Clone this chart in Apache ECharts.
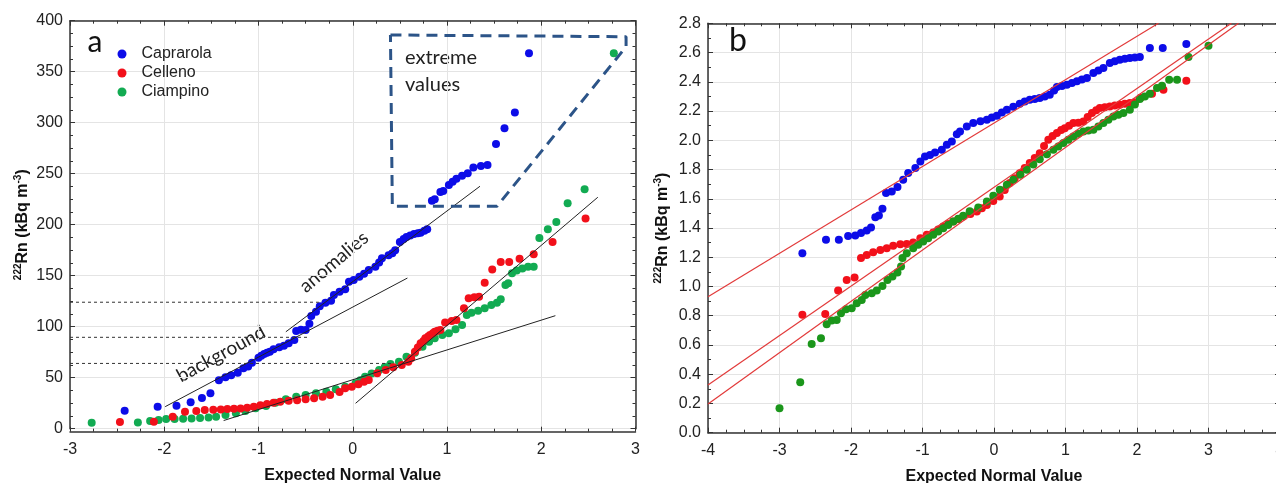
<!DOCTYPE html>
<html>
<head>
<meta charset="utf-8">
<script src="https://cdn.jsdelivr.net/npm/echarts@6/dist/echarts.min.js"></script>
<style>
  html, body { margin: 0; padding: 0; background: #fff; }
  #chart { width: 1276px; height: 483px; }
</style>
</head>
<body>
<div id="chart"></div>
<script>
// panel a - raw values: [expected normal value, Rn kBq m-3]
var caprarolaA = [[-2.42,17.6],[-2.07,21.6],[-1.87,22.5],[-1.72,25.9],[-1.60,30],[-1.51,34.7],[-1.42,47.4],[-1.35,50.4],
  [-1.29,52.3],[-1.22,54.9],[-1.16,59.2],[-1.11,61],[-1.07,64.7],[-1.00,69.6],[-0.97,71.5],[-0.94,73.2],[-0.91,74.5],
  [-0.88,75.5],[-0.84,77.8],[-0.78,79.8],[-0.73,81.4],[-0.68,83.7],[-0.62,87],[-0.60,95.8],[-0.55,97],[-0.50,96.8],
  [-0.46,103],[-0.44,110.5],[-0.39,114.7],[-0.35,120],[-0.29,123.5],[-0.23,125.5],[-0.20,131],[-0.14,134.3],[-0.08,136.7],
  [-0.04,144],[0.01,145.8],[0.07,149],[0.12,152],[0.17,155.6],[0.24,158.8],[0.28,163],[0.31,167],[0.38,170],[0.42,172],
  [0.45,175],[0.50,183],[0.54,186],[0.57,188],[0.61,189.5],[0.65,191],[0.69,191.5],[0.72,192],[0.76,194],[0.79,195.5],
  [0.84,223.5],[0.87,225],[0.93,232],[0.96,233],[1.02,239],[1.06,242],[1.10,245],[1.16,248],[1.22,250.4],[1.28,256],
  [1.36,257.5],[1.43,258.5],[1.52,279],[1.61,294.5],[1.72,310],[1.87,368]];
var cellenoA = [[-2.47,6.6],[-2.11,6.9],[-1.91,11.8],[-1.78,16.7],[-1.66,17.4],[-1.57,18.3],[-1.48,18.6],[-1.40,18.9],
  [-1.33,19.2],[-1.26,19.6],[-1.19,19.9],[-1.12,20.5],[-1.05,21.6],[-0.98,22.9],[-0.91,24.2],[-0.84,25.5],[-0.77,26.5],
  [-0.68,27.5],[-0.59,28],[-0.50,28.8],[-0.41,29.8],[-0.32,31.4],[-0.24,33],[-0.14,36],[-0.08,39.6],[-0.01,41.2],
  [0.06,43.5],[0.12,46],[0.17,47.7],[0.26,54.3],[0.35,57.5],[0.43,60.2],[0.52,62.5],[0.59,65.7],[0.62,69],[0.66,75.5],
  [0.69,79.5],[0.72,83.7],[0.75,86],[0.77,88.6],[0.80,90.3],[0.82,91.9],[0.85,93.5],[0.87,95],[0.90,96],[0.93,96.8],
  [0.98,104],[1.05,105.6],[1.10,106.6],[1.18,118],[1.23,127.8],[1.29,128.8],[1.34,129.4],[1.40,143],[1.48,156],
  [1.57,163.4],[1.66,163.4],[1.77,166.7],[1.92,171],[2.12,183],[2.47,206]];
var ciampinoA = [[-2.77,5.9],[-2.28,6.2],[-2.15,7.5],[-2.06,8.5],[-1.98,9.5],[-1.89,9.5],[-1.80,9.8],[-1.71,10.1],
  [-1.62,10.5],[-1.53,11.1],[-1.45,11.8],[-1.35,13.4],[-1.24,15.1],[-1.14,17.4],[-1.03,20],[-0.92,22.3],[-0.82,25.5],
  [-0.71,28.8],[-0.60,31.4],[-0.50,33],[-0.39,34.7],[-0.28,36.3],[-0.18,38.6],[-0.08,41.2],[0.03,44.5],[0.08,47.5],
  [0.13,51],[0.20,54],[0.28,57.5],[0.34,60.5],[0.40,63.4],[0.49,65.7],[0.57,70.6],[0.66,74.5],[0.74,80.4],[0.81,85.3],
  [0.87,88.6],[0.95,91.9],[1.02,93.5],[1.09,97.5],[1.16,101.7],[1.21,111.5],[1.26,113.7],[1.33,115.7],[1.40,118],
  [1.47,121.3],[1.53,123.5],[1.57,126.9],[1.62,140.9],[1.65,142.5],[1.69,152.4],[1.74,155],[1.80,157],[1.86,158.8],
  [1.92,158.8],[1.98,187],[2.07,195.5],[2.16,202.6],[2.28,221],[2.46,234.7],[2.77,368]];

// panel a - fitted segments and thresholds
var backgroundFit = [[-1.99,21.6],[0.58,147.7]];
var anomalyFit = [[-0.71,95],[1.35,237.7]];
var lowerFit = [[-1.37,8],[2.15,110.8]];
var upperFit = [[0.03,24.9],[2.60,226.9]];
var threshold1 = [[-3,124],[-0.36,124]];
var threshold2 = [[-3,89.6],[-0.47,89.6]];
var threshold3 = [[-3,64],[0.41,64]];
var extremeBox = [[0.40,386],[2.90,384.3],[2.90,374.5],[1.53,218],[0.42,218],[0.40,386]];

// panel b - log values
var caprarolaB = [[-2.68,1.228],[-2.35,1.319],[-2.17,1.319],[-2.04,1.346],[-1.94,1.348],[-1.86,1.365],[-1.78,1.383],
  [-1.72,1.403],[-1.66,1.474],[-1.61,1.485],[-1.56,1.531],[-1.51,1.639],[-1.43,1.650],[-1.35,1.68],[-1.27,1.73],
  [-1.20,1.776],[-1.10,1.81],[-1.03,1.855],[-0.965,1.889],[-0.895,1.90],[-0.825,1.917],[-0.73,1.935],[-0.66,1.97],
  [-0.59,1.992],[-0.52,2.042],[-0.475,2.06],[-0.38,2.095],[-0.29,2.118],[-0.19,2.13],[-0.10,2.140],[-0.03,2.155],
  [0.04,2.168],[0.11,2.19],[0.18,2.209],[0.27,2.23],[0.36,2.25],[0.43,2.265],[0.50,2.277],[0.57,2.283],[0.64,2.289],
  [0.71,2.30],[0.78,2.311],[0.84,2.34],[0.88,2.364],[0.95,2.372],[1.02,2.38],[1.09,2.392],[1.16,2.403],[1.23,2.415],
  [1.30,2.426],[1.39,2.46],[1.46,2.477],[1.53,2.494],[1.62,2.528],[1.69,2.54],[1.76,2.551],[1.83,2.557],[1.90,2.563],
  [1.97,2.566],[2.04,2.569],[2.18,2.631],[2.36,2.631],[2.69,2.658]];
var cellenoB = [[-2.68,0.806],[-2.36,0.812],[-2.18,0.972],[-2.06,1.045],[-1.95,1.061],[-1.86,1.194],[-1.78,1.216],
  [-1.69,1.235],[-1.59,1.25],[-1.50,1.262],[-1.41,1.278],[-1.31,1.289],[-1.22,1.291],[-1.13,1.30],[-1.03,1.33],
  [-0.94,1.353],[-0.85,1.369],[-0.78,1.39],[-0.71,1.41],[-0.64,1.427],[-0.57,1.444],[-0.50,1.46],[-0.43,1.478],
  [-0.33,1.495],[-0.24,1.513],[-0.17,1.535],[-0.10,1.558],[-0.01,1.585],[0.08,1.615],[0.15,1.66],[0.22,1.707],
  [0.29,1.74],[0.36,1.775],[0.43,1.81],[0.50,1.844],[0.57,1.878],[0.64,1.912],[0.70,1.96],[0.76,2.003],[0.82,2.03],
  [0.88,2.049],[0.94,2.07],[0.99,2.083],[1.05,2.10],[1.11,2.118],[1.18,2.12],[1.25,2.129],[1.31,2.16],[1.37,2.186],
  [1.43,2.205],[1.48,2.22],[1.55,2.226],[1.62,2.231],[1.69,2.237],[1.76,2.243],[1.83,2.249],[1.90,2.255],[1.97,2.26],
  [2.05,2.29],[2.21,2.318],[2.37,2.346],[2.69,2.407]];
var ciampinoB = [[-3.0,0.167],[-2.71,0.345],[-2.55,0.607],[-2.42,0.646],[-2.34,0.742],[-2.27,0.767],[-2.20,0.771],
  [-2.14,0.817],[-2.07,0.845],[-1.99,0.851],[-1.92,0.886],[-1.85,0.908],[-1.80,0.942],[-1.71,0.954],[-1.64,0.972],
  [-1.56,1.004],[-1.49,1.045],[-1.42,1.068],[-1.35,1.095],[-1.30,1.136],[-1.28,1.194],[-1.22,1.228],[-1.13,1.262],
  [-1.06,1.285],[-0.99,1.307],[-0.92,1.33],[-0.85,1.353],[-0.78,1.376],[-0.71,1.399],[-0.64,1.42],[-0.57,1.444],
  [-0.50,1.463],[-0.43,1.483],[-0.34,1.515],[-0.22,1.54],[-0.10,1.581],[-0.01,1.62],[0.08,1.661],[0.18,1.695],
  [0.27,1.73],[0.37,1.765],[0.46,1.798],[0.55,1.835],[0.64,1.871],[0.74,1.905],[0.83,1.935],[0.90,1.958],[0.97,1.981],
  [1.04,2.004],[1.11,2.026],[1.18,2.045],[1.25,2.06],[1.32,2.066],[1.39,2.072],[1.46,2.095],[1.53,2.118],[1.60,2.14],
  [1.67,2.163],[1.74,2.175],[1.81,2.186],[1.90,2.209],[1.97,2.245],[2.04,2.282],[2.11,2.30],[2.18,2.318],[2.28,2.357],
  [2.35,2.373],[2.45,2.414],[2.56,2.414],[2.72,2.569],[3.00,2.647]];

// panel b - fitted lines
var caprarolaFit = [[-4,0.93],[2.30,2.8]];
var cellenoFit = [[-4,0.326],[3.32,2.8]];
var ciampinoFit = [[-4,0.196],[3.42,2.8]];

var xTicksA = [-3, 3];
var yTicksA = [0, 400];
var xTicksB = [-4, 4];
var yTicksB = [0, 2.8];

var tickFont = 'Liberation Sans, Arial, sans-serif';
var noteFont = 'Lato, "Open Sans", sans-serif';
var axisColor = '#333';

function frameAxis(extra) {
  var base = {
    type: 'value',
    axisLine: { show: true, onZero: false, lineStyle: { color: axisColor, width: 1.5 } },
    axisTick: { show: true, inside: true, length: 5, lineStyle: { color: axisColor } },
    minorTick: { show: true, inside: true, splitNumber: 4, length: 3, lineStyle: { color: axisColor } },
    axisLabel: { show: true, color: '#222', fontSize: 16, fontFamily: tickFont },
    splitLine: { show: true, lineStyle: { color: '#e4e4e4', width: 1 } }
  };
  return Object.assign(base, extra);
}

var yName = '{sup|222}{b|Rn (kBq m}{sup|-3}{b|)}';
var yNameRich = {
  b: { fontSize: 16, fontWeight: 'bold', fontFamily: tickFont, color: '#111' },
  sup: { fontSize: 10, fontWeight: 'bold', fontFamily: tickFont, color: '#111', padding: [0, 0, 9, 0] }
};
var xNameStyle = { fontSize: 16, fontWeight: 'bold', fontFamily: tickFont, color: '#111' };

function line(data, xi, color, width, type) {
  return {
    type: 'line', data: data, xAxisIndex: xi, yAxisIndex: xi, symbol: 'none', silent: true, z: 5,
    lineStyle: { color: color, width: width, type: type || 'solid' }
  };
}
function dots(name, data, xi, color) {
  return {
    name: name, type: 'scatter', data: data, xAxisIndex: xi, yAxisIndex: xi,
    symbolSize: 8, itemStyle: { color: color, opacity: 1 }, z: 3
  };
}

var chart = echarts.init(document.getElementById('chart'));
chart.setOption({
  animation: false,
  grid: [
    { left: 70, right: 640.5, top: 20.7, bottom: 54.3, outerBoundsMode: 'none', containLabel: false },
    { left: 708, right: -4, top: 23.3, bottom: 50.3, outerBoundsMode: 'none', containLabel: false }
  ],
  xAxis: [
    frameAxis({ gridIndex: 0, min: xTicksA[0], max: xTicksA[1], interval: 1, offset: 3,
      name: 'Expected Normal Value', nameLocation: 'middle', nameGap: 36, nameTextStyle: xNameStyle,
      axisLabel: { color: '#222', fontSize: 16, fontFamily: tickFont, margin: 10 } }),
    frameAxis({ gridIndex: 0, position: 'top', min: xTicksA[0], max: xTicksA[1], interval: 1,
      axisLabel: { show: false }, splitLine: { show: false } }),
    frameAxis({ gridIndex: 1, min: xTicksB[0], max: xTicksB[1], interval: 1,
      name: 'Expected Normal Value', nameLocation: 'middle', nameGap: 36, nameTextStyle: xNameStyle,
      axisLabel: { color: '#222', fontSize: 16, fontFamily: tickFont, margin: 10 } }),
    frameAxis({ gridIndex: 1, position: 'top', min: xTicksB[0], max: xTicksB[1], interval: 1,
      axisLabel: { show: false }, splitLine: { show: false } })
  ],
  yAxis: [
    frameAxis({ gridIndex: 0, min: yTicksA[0], max: yTicksA[1], interval: 50,
      name: yName, nameLocation: 'middle', nameRotate: 90, nameGap: 38, nameTextStyle: { rich: yNameRich },
      axisLabel: { color: '#222', fontSize: 16, fontFamily: tickFont, margin: 7 } }),
    frameAxis({ gridIndex: 0, position: 'right', min: yTicksA[0], max: yTicksA[1], interval: 50,
      axisLabel: { show: false }, splitLine: { show: false } }),
    frameAxis({ gridIndex: 1, min: yTicksB[0], max: yTicksB[1], interval: 0.2,
      minorTick: { show: true, splitNumber: 2, length: 3, lineStyle: { color: axisColor } },
      name: yName, nameLocation: 'middle', nameRotate: 90, nameGap: 36, nameTextStyle: { rich: yNameRich },
      axisLabel: { color: '#222', fontSize: 16, fontFamily: tickFont, margin: 7,
        formatter: function (v) { return v.toFixed(1); } } }),
    frameAxis({ gridIndex: 1, position: 'right', min: yTicksB[0], max: yTicksB[1], interval: 0.2,
      axisLabel: { show: false }, splitLine: { show: false } })
  ],
  legend: {
    data: ['Caprarola', 'Celleno', 'Ciampino'],
    orient: 'vertical', left: 112.5, top: 39.5, icon: 'circle',
    itemWidth: 9, itemHeight: 9, itemGap: 0, selectedMode: false,
    textStyle: { fontSize: 16, lineHeight: 19, fontFamily: tickFont, color: '#222', padding: [0, 0, 0, 10] }
  },
  series: [
    dots('Ciampino', ciampinoA, 0, '#12ab52'),
    dots('Celleno', cellenoA, 0, '#f2101a'),
    dots('Caprarola', caprarolaA, 0, '#0c0ce8'),
    line(backgroundFit, 0, '#222', 1),
    line(anomalyFit, 0, '#222', 1),
    line(lowerFit, 0, '#222', 1),
    line(upperFit, 0, '#222', 1),
    line(threshold1, 0, '#333', 1, [3, 3]),
    line(threshold2, 0, '#333', 1, [3, 3]),
    line(threshold3, 0, '#333', 1, [3, 3]),
    line(extremeBox, 0, '#2c5488', 3, [11, 7]),
    dots('Celleno', cellenoB, 2, '#f2101a'),
    dots('Ciampino', ciampinoB, 2, '#1b961b'),
    dots('Caprarola', caprarolaB, 2, '#0c0ce8'),
    line(caprarolaFit, 2, '#e23a3a', 1.2),
    line(cellenoFit, 2, '#e23a3a', 1.2),
    line(ciampinoFit, 2, '#e23a3a', 1.2)
  ],
  graphic: [
    { type: 'text', x: 95, y: 42, style: { text: 'a', font: '30px ' + noteFont, fill: '#111', align: 'center', verticalAlign: 'middle' } },
    { type: 'text', x: 738, y: 41, style: { text: 'b', font: '32px ' + noteFont, fill: '#111', align: 'center', verticalAlign: 'middle' } },
    { type: 'text', x: 405, y: 58, style: { text: 'extreme', font: '20px ' + noteFont, fill: '#222', verticalAlign: 'middle' } },
    { type: 'text', x: 405, y: 85, style: { text: 'values', font: '20px ' + noteFont, fill: '#222', verticalAlign: 'middle' } },
    { type: 'text', x: 221, y: 354, rotation: 28.5 * Math.PI / 180,
      style: { text: 'background', font: '19px ' + noteFont, fill: '#222', align: 'center', verticalAlign: 'middle' } },
    { type: 'text', x: 334, y: 262, rotation: 40 * Math.PI / 180,
      style: { text: 'anomalies', font: '19px ' + noteFont, fill: '#222', align: 'center', verticalAlign: 'middle' } }
  ]
});
</script>
</body>
</html>
